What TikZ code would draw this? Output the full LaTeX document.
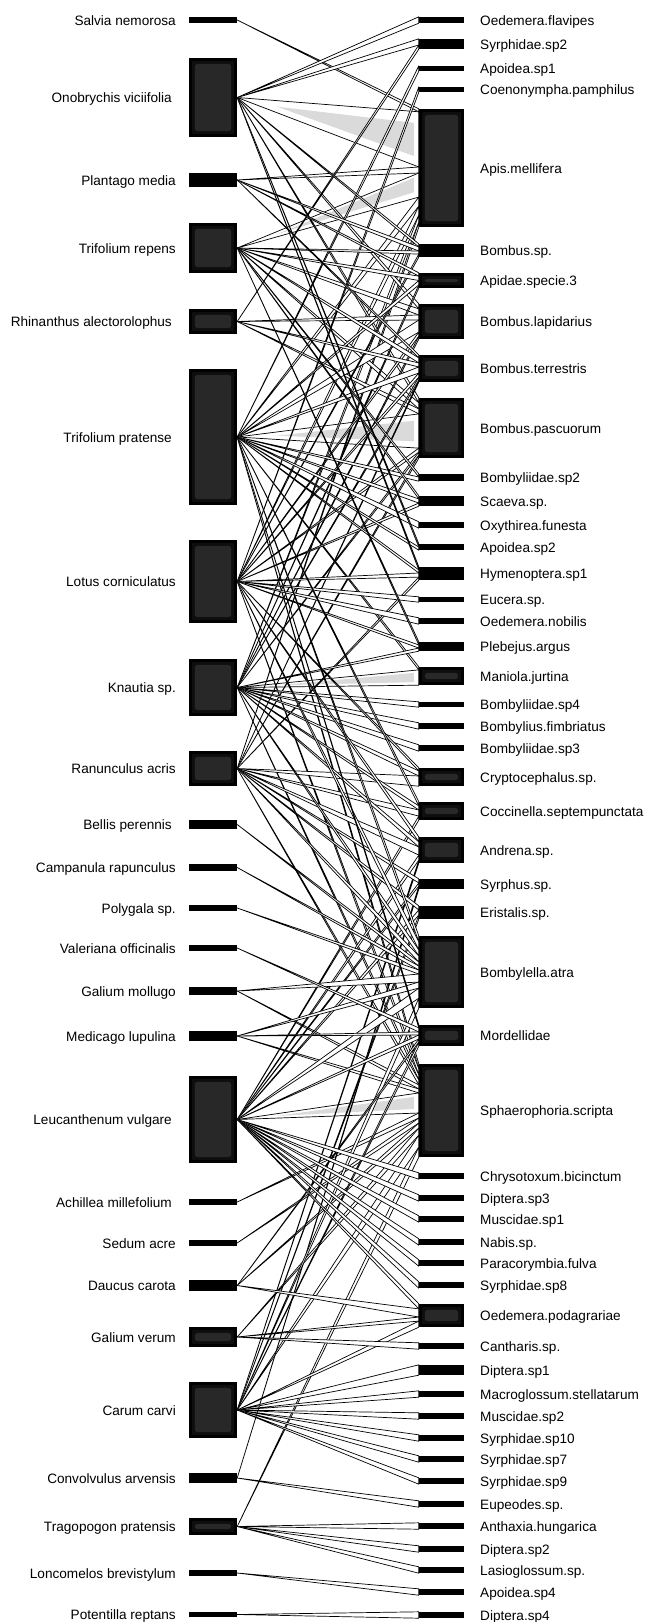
\documentclass[tikz,border=0pt]{standalone}
\usepackage{fontspec}
\setmainfont{Liberation Sans}
\usetikzlibrary{calc}
\definecolor{boxrim}{RGB}{14,14,14}
\definecolor{boxin}{RGB}{40,40,40}
\definecolor{wedgegray}{RGB}{218,218,218}
\tikzset{
  webedge/.style={fill=white, draw=black, line width=0.7pt, line join=round},
  lbox/.style={rectangle, fill=black, inner sep=0pt, minimum width=48pt},
  rbox/.style={rectangle, fill=black, inner sep=0pt, minimum width=45pt},
  lablab/.style={inner sep=0pt, font=\fontsize{13.6}{16}\selectfont},
}
\def\wpass{1}
\newcommand\wedgesto[3]{%
  \xdef\wtot{0}%
  \foreach \src/\wt in {#3}{\pgfmathsetmacro\tmpa{\wtot+\wt}\xdef\wtot{\tmpa}}%
  \xdef\wacc{0}%
  \foreach \src/\wt in {#3}{%
    \pgfmathsetmacro\fa{\wacc/\wtot}%
    \pgfmathsetmacro\fb{(\wacc+\wt)/\wtot}%
    \pgfmathsetmacro\tmpa{\wacc+\wt}\xdef\wacc{\tmpa}%
    \pgfmathsetmacro\hh{(\fb-\fa)*#2}%
    \pgfmathtruncatemacro\isw{\hh>14}%
    \pgfmathtruncatemacro\dothis{(\isw==1 && \wpass==1) || (\isw==0 && \wpass==2)}%
    \ifnum\dothis=1
      \coordinate (wA) at (\src.east);
      \coordinate (wB) at ($(#1.north west)!\fa!(#1.south west)$);
      \coordinate (wC) at ($(#1.north west)!\fb!(#1.south west)$);
      \coordinate (wM) at ($(wB)!0.5!(wC)$);
      \filldraw[webedge] (wA) -- (wB) -- (wC) -- cycle;
      \ifnum\isw=1
        \fill[wedgegray] ($(wA)!0.22!(wM)$) -- ($(wB)!0.2!(wC)+(-5,0)$) -- ($(wC)!0.2!(wB)+(-5,0)$) -- cycle;
      \fi
    \fi
  }%
}
\newcommand\alledges{%
\wedgesto{Apis}{118}{Sal/3,Ono/55,Pla/6,TrR/24,TrP/9,Lot/9,Kna/7,Ran/5}
\wedgesto{BoP}{60}{Ono/5,TrR/6,Rhi/5,TrP/34,Lot/4,Kna/3,Ran/3}
\wedgesto{Sph}{93}{TrP/5,Lot/6,Kna/5,Ran/5,GaM/4,Med/4,Leu/20,Ach/5,Sed/5,Dau/5,GaV/7,Car/12,Tra/10}
\wedgesto{Man}{18}{TrP/3,Kna/15}
\wedgesto{BoL}{35}{Ono/5,TrR/6,Rhi/5,TrP/12,Lot/4,Kna/3}
\wedgesto{OeF}{6}{Ono/1}
\wedgesto{Sy2}{10}{Ono/6,Rhi/4}
\wedgesto{Ap1}{5}{TrP/1}
\wedgesto{Coe}{5}{Lot/1}
\wedgesto{BoS}{13}{Ono/3,Pla/4,TrR/3,Lot/3}
\wedgesto{ApS3}{15}{Pla/3,TrR/4,TrP/4,Kna/3}
\wedgesto{BoT}{27}{Pla/3,TrR/5,Rhi/4,TrP/6,Lot/4,Kna/3,Ran/2}
\wedgesto{By2}{7}{TrR/3,TrP/4}
\wedgesto{Sca}{10}{TrR/3,TrP/4,Lot/3}
\wedgesto{Oxy}{6}{TrP/1}
\wedgesto{Ap2}{6}{Ono/3,TrP/3}
\wedgesto{Hym}{13}{Ono/3,TrP/3,Lot/4,Ran/3}
\wedgesto{Euc}{6}{Lot/1}
\wedgesto{OeN}{6}{Lot/1}
\wedgesto{Ple}{9}{TrR/3,Lot/3,Kna/3}
\wedgesto{By4}{5}{Kna/1}
\wedgesto{BFi}{6}{Kna/1}
\wedgesto{By3}{6}{Kna/1}
\wedgesto{Cry}{18}{Lot/3,Kna/5,Ran/10}
\wedgesto{Coc}{18}{TrP/4,Kna/4,Ran/6,Leu/4}
\wedgesto{And}{26}{Lot/5,Kna/5,Ran/8,Leu/5,Car/3}
\wedgesto{Syr}{10}{Ran/4,Leu/3,Con/3}
\wedgesto{Eri}{13}{Ran/4,Leu/5,Car/4}
\wedgesto{BoA}{72}{TrP/6,Lot/8,Kna/6,Ran/6,Bel/4,Cam/4,Pol/4,GaM/8,Med/6,Leu/10,Car/10}
\wedgesto{Mor}{21}{TrP/3,Val/4,Med/3,Leu/4,Dau/3,Car/4}
\wedgesto{Chr}{6}{Leu/1}
\wedgesto{Di3}{6}{Leu/1}
\wedgesto{Mu1}{6}{Leu/1}
\wedgesto{Nab}{6}{Leu/1}
\wedgesto{Par}{6}{Leu/1}
\wedgesto{Sy8}{6}{Leu/1}
\wedgesto{OeP}{23}{Leu/5,Dau/8,GaV/4,Car/6}
\wedgesto{Can}{6}{GaV/1}
\wedgesto{Di1}{10}{Car/1}
\wedgesto{Mac}{6}{Car/1}
\wedgesto{Mu2}{6}{Car/1}
\wedgesto{S10}{6}{Car/1}
\wedgesto{Sy7}{6}{Car/1}
\wedgesto{Sy9}{6}{Car/1}
\wedgesto{Eup}{6}{Con/1}
\wedgesto{Ant}{6}{Tra/1}
\wedgesto{Di2}{6}{Tra/1}
\wedgesto{Las}{6}{Tra/1}
\wedgesto{Ap4}{6}{Lon/1}
\wedgesto{Di4}{6}{Pot/1}
}
\begin{document}
\begin{tikzpicture}[x=1pt,y=-1pt]
\fill[white] (0,0) rectangle (645,1622);
\useasboundingbox (0,0) rectangle (645,1622);
% plants (left)
\foreach \nm/\tx/\ya/\yb/\lx in {
Sal/Salvia nemorosa/17/23/176,
Ono/Onobrychis viciifolia/58/137/172,
Pla/Plantago media/173/187/176,
TrR/Trifolium repens/223/273/176,
Rhi/Rhinanthus alectorolophus/309/334/172,
TrP/Trifolium pratense/369/505/172,
Lot/Lotus corniculatus/540/623/176,
Kna/Knautia sp./659/716/176,
Ran/Ranunculus acris/751/786/176,
Bel/Bellis perennis/820/829/172,
Cam/Campanula rapunculus/864/871/176,
Pol/Polygala sp./905/911/176,
Val/Valeriana officinalis/945/951/176,
GaM/Galium mollugo/987/995/176,
Med/Medicago lupulina/1031/1041/176,
Leu/Leucanthenum vulgare/1076/1163/172,
Ach/Achillea millefolium/1199/1205/172,
Sed/Sedum acre/1240/1246/176,
Dau/Daucus carota/1280/1291/176,
GaV/Galium verum/1327/1347/176,
Car/Carum carvi/1382/1438/176,
Con/Convolvulus arvensis/1473/1483/176,
Tra/Tragopogon pratensis/1518/1535/176,
Lon/Loncomelos brevistylum/1570/1576/176,
Pot/Potentilla reptans/1612/1617/176}{
  \node[lbox, minimum height={(\yb-\ya)*1pt}] (\nm) at (213,{(\ya+\yb)/2}) {};
  \pgfmathtruncatemacro\isbig{(\yb-\ya)>=15}
  \ifnum\isbig=1
    \fill[boxrim, rounded corners=2pt] ([shift={(3,3)}]\nm.north west) rectangle ([shift={(-3,-3)}]\nm.south east);
    \fill[boxin, rounded corners=3pt] ([shift={(6,6)}]\nm.north west) rectangle ([shift={(-6,-6)}]\nm.south east);
  \fi
  \node[lablab, anchor=base east] (\nm-t) at (\lx,{(\ya+\yb)/2+5}) {\tx};
}
% pollinators (right)
\foreach \nm/\tx/\ya/\yb in {
OeF/Oedemera.flavipes/17/23,
Sy2/Syrphidae.sp2/39/49,
Ap1/Apoidea.sp1/66/71,
Coe/Coenonympha.pamphilus/87/92,
Apis/Apis.mellifera/109/227,
BoS/Bombus.sp./244/257,
ApS3/Apidae.specie.3/273/288,
BoL/Bombus.lapidarius/304/339,
BoT/Bombus.terrestris/355/382,
BoP/Bombus.pascuorum/398/458,
By2/Bombyliidae.sp2/474/481,
Sca/Scaeva.sp./496/506,
Oxy/Oxythirea.funesta/522/528,
Ap2/Apoidea.sp2/544/550,
Hym/Hymenoptera.sp1/567/580,
Euc/Eucera.sp./597/602,
OeN/Oedemera.nobilis/618/624,
Ple/Plebejus.argus/642/651,
Man/Maniola.jurtina/667/685,
By4/Bombyliidae.sp4/702/707,
BFi/Bombylius.fimbriatus/723/729,
By3/Bombyliidae.sp3/745/751,
Cry/Cryptocephalus.sp./768/786,
Coc/Coccinella.septempunctata/802/820,
And/Andrena.sp./837/863,
Syr/Syrphus.sp./879/889,
Eri/Eristalis.sp./906/919,
BoA/Bombylella.atra/936/1008,
Mor/Mordellidae/1025/1046,
Sph/Sphaerophoria.scripta/1064/1157,
Chr/Chrysotoxum.bicinctum/1173/1179,
Di3/Diptera.sp3/1195/1201,
Mu1/Muscidae.sp1/1216/1222,
Nab/Nabis.sp./1239/1245,
Par/Paracorymbia.fulva/1260/1266,
Sy8/Syrphidae.sp8/1282/1288,
OeP/Oedemera.podagrariae/1304/1327,
Can/Cantharis.sp./1343/1349,
Di1/Diptera.sp1/1365/1375,
Mac/Macroglossum.stellatarum/1391/1397,
Mu2/Muscidae.sp2/1413/1419,
S10/Syrphidae.sp10/1435/1441,
Sy7/Syrphidae.sp7/1456/1462,
Sy9/Syrphidae.sp9/1478/1484,
Eup/Eupeodes.sp./1501/1507,
Ant/Anthaxia.hungarica/1523/1529,
Di2/Diptera.sp2/1546/1552,
Las/Lasioglossum.sp./1567/1573,
Ap4/Apoidea.sp4/1589/1595,
Di4/Diptera.sp4/1612/1618}{
  \node[rbox, minimum height={(\yb-\ya)*1pt}] (\nm) at (441.5,{(\ya+\yb)/2}) {};
  \pgfmathtruncatemacro\isbig{(\yb-\ya)>=15}
  \ifnum\isbig=1
    \fill[boxrim, rounded corners=2pt] ([shift={(3,3)}]\nm.north west) rectangle ([shift={(-3,-3)}]\nm.south east);
    \fill[boxin, rounded corners=3pt] ([shift={(6,6)}]\nm.north west) rectangle ([shift={(-6,-6)}]\nm.south east);
  \fi
  \node[lablab, anchor=base west] (\nm-t) at (480,{(\ya+\yb)/2+5}) {\tx};
}
% interactions
\def\wpass{1}\alledges
\def\wpass{2}\alledges
\end{tikzpicture}
\end{document}
